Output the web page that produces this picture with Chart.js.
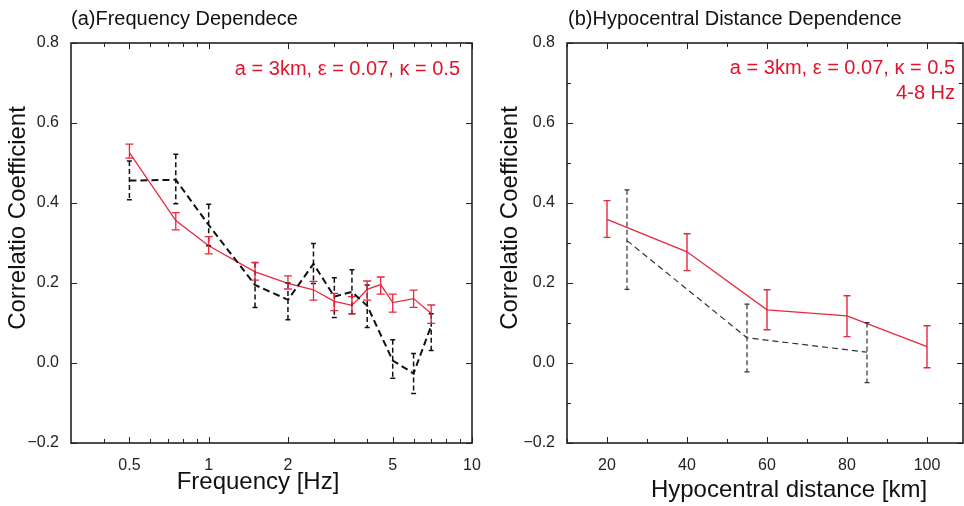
<!DOCTYPE html>
<html>
<head>
<meta charset="utf-8">
<script src="https://cdn.jsdelivr.net/npm/chart.js@4.4.0/dist/chart.umd.min.js"></script>
<style>
body { margin: 0; background: #fff; }
#wrap { position: relative; width: 964px; height: 506px; }
canvas { position: absolute; top: 0; }
</style>
</head>
<body>
<div id="wrap">
  <canvas id="freqChart" width="482" height="506" style="left:0"></canvas>
  <canvas id="distChart" width="482" height="506" style="left:482px"></canvas>
</div>
<script>
// ---- (a) frequency dependence ----
const freqRed = [0.5, 0.75, 1, 1.5, 2, 2.5, 3, 3.5, 4, 4.5, 5, 6, 7];
const corrRed = [0.526, 0.356, 0.293, 0.228, 0.199, 0.183, 0.154, 0.144, 0.184, 0.196, 0.151, 0.161, 0.124];
const corrRedHigh = [0.547, 0.376, 0.316, 0.251, 0.218, 0.204, 0.174, 0.166, 0.205, 0.215, 0.172, 0.182, 0.145];
const corrRedLow = [0.512, 0.333, 0.273, 0.207, 0.185, 0.157, 0.131, 0.123, 0.157, 0.172, 0.127, 0.139, 0.099];

const freqObs = [0.5, 0.75, 1, 1.5, 2, 2.5, 3, 3.5, 4, 5, 6, 7];
const corrObs = [0.456, 0.458, 0.345, 0.195, 0.158, 0.248, 0.166, 0.178, 0.143, 0.006, -0.026, 0.093];
const corrObsHigh = [0.505, 0.522, 0.397, 0.251, 0.200, 0.299, 0.213, 0.233, 0.195, 0.058, 0.024, 0.123];
const corrObsLow = [0.408, 0.398, 0.293, 0.139, 0.108, 0.199, 0.114, 0.123, 0.089, -0.038, -0.076, 0.031];

// ---- (b) hypocentral distance dependence ----
const distRed = [20, 40, 60, 80, 100];
const distCorrRed = [0.359, 0.278, 0.133, 0.118, 0.041];
const distCorrRedHigh = [0.406, 0.323, 0.183, 0.168, 0.093];
const distCorrRedLow = [0.314, 0.231, 0.083, 0.066, -0.012];

const distObs = [25, 55, 85];
const distCorrObs = [0.306, 0.063, 0.027];
const distCorrObsHigh = [0.433, 0.147, 0.101];
const distCorrObsLow = [0.184, -0.022, -0.049];

// ticks
const yTicks = [-0.2, 0, 0.2, 0.4, 0.6, 0.8];
const yMinorB = [-0.1, 0.1, 0.3, 0.5, 0.7];
const freqTicks = [0.5, 1, 2, 5, 10];
const freqMinor = [0.4, 0.6, 0.7, 0.8, 0.9, 3, 4, 6, 7, 8, 9];
const distTicks = [20, 40, 60, 80, 100];
const distMinor = [10, 30, 50, 70, 90];

const RED = '#e8283c';
const TEXT_RED = '#e0142c';
const FONT = 'Arial, "Liberation Sans", sans-serif';

function pts(xs, ys) {
    return xs.map((x, i) => ({ x: x, y: ys[i] }));
}

function yLabel(v) {
    return (v < 0 ? '\u2212' : '') + Math.abs(v).toFixed(1);
}

// error bars drawn from dataset.errLow / errHigh through the y scale
const errorBars = {
    id: 'errorBars',
    afterDatasetsDraw(chart) {
        const ctx = chart.ctx;
        const yScale = chart.scales.y;
        chart.data.datasets.forEach((ds, di) => {
            const meta = chart.getDatasetMeta(di);
            ctx.save();
            ctx.strokeStyle = ds.borderColor;
            ctx.lineWidth = ds.errWidth;
            meta.data.forEach((pt, i) => {
                const yh = yScale.getPixelForValue(ds.errHigh[i]);
                const yl = yScale.getPixelForValue(ds.errLow[i]);
                ctx.setLineDash(ds.errDash);
                ctx.beginPath();
                ctx.moveTo(pt.x, yh);
                ctx.lineTo(pt.x, yl);
                ctx.stroke();
                ctx.setLineDash([]);
                ctx.beginPath();
                ctx.moveTo(pt.x - ds.capHalf, yh);
                ctx.lineTo(pt.x + ds.capHalf, yh);
                ctx.moveTo(pt.x - ds.capHalf, yl);
                ctx.lineTo(pt.x + ds.capHalf, yl);
                ctx.stroke();
            });
            ctx.restore();
        });
    }
};

// box frame with inward ticks on all four sides
const frame = {
    id: 'frame',
    afterDatasetsDraw(chart, args, opts) {
        const ctx = chart.ctx;
        const a = chart.chartArea;
        const xs = chart.scales.x, ys = chart.scales.y;
        ctx.save();
        ctx.strokeStyle = '#222';
        ctx.lineWidth = 1;
        const tickX = (vals, len) => vals.forEach(v => {
            const px = Math.round(xs.getPixelForValue(v)) + 0.5;
            ctx.beginPath();
            ctx.moveTo(px, a.bottom); ctx.lineTo(px, a.bottom - len);
            ctx.moveTo(px, a.top); ctx.lineTo(px, a.top + len);
            ctx.stroke();
        });
        const tickY = (vals, len) => vals.forEach(v => {
            const py = Math.round(ys.getPixelForValue(v)) + 0.5;
            ctx.beginPath();
            ctx.moveTo(a.left, py); ctx.lineTo(a.left + len, py);
            ctx.moveTo(a.right, py); ctx.lineTo(a.right - len, py);
            ctx.stroke();
        });
        tickX(opts.xMajor, 6);
        tickX(opts.xMinor, 4);
        tickY(opts.yMajor, 6);
        tickY(opts.yMinor, 4);
        ctx.lineWidth = 1.6;
        ctx.strokeRect(a.left, a.top, a.right - a.left, a.bottom - a.top);
        ctx.restore();
    }
};

// titles and annotations
const texts = {
    id: 'texts',
    afterDraw(chart, args, opts) {
        const ctx = chart.ctx;
        opts.items.forEach(t => {
            ctx.save();
            ctx.font = t.size + 'px ' + FONT;
            ctx.fillStyle = t.color || '#111';
            ctx.textAlign = t.align || 'center';
            ctx.textBaseline = 'middle';
            ctx.translate(t.x, t.y);
            if (t.rotate) ctx.rotate(-Math.PI / 2);
            ctx.fillText(t.text, 0, 0);
            ctx.restore();
        });
    }
};

function yAxis(width) {
    return {
        min: -0.2,
        max: 0.8,
        afterBuildTicks: s => { s.ticks = yTicks.map(v => ({ value: v })); },
        afterFit: s => { s.width = width; s.paddingTop = 0; s.paddingBottom = 0; },
        grid: { display: false },
        border: { display: false },
        ticks: {
            font: { family: FONT, size: 16 },
            color: '#222',
            padding: 4,
            callback: yLabel
        }
    };
}

function xTicks() {
    return {
        font: { family: FONT, size: 16 },
        color: '#222',
        padding: 5,
        maxRotation: 0,
        autoSkip: false,
        callback: v => String(v)
    };
}

// Create the frequency chart
new Chart(document.getElementById('freqChart').getContext('2d'), {
    type: 'line',
    data: {
        datasets: [
            {
                data: pts(freqObs, corrObs),
                borderColor: '#111',
                borderWidth: 2,
                borderDash: [7, 4],
                pointRadius: 0,
                errLow: corrObsLow,
                errHigh: corrObsHigh,
                errWidth: 1.5,
                errDash: [5, 3],
                capHalf: 2.5
            },
            {
                data: pts(freqRed, corrRed),
                borderColor: RED,
                borderWidth: 1.3,
                pointRadius: 0,
                errLow: corrRedLow,
                errHigh: corrRedHigh,
                errWidth: 1.3,
                errDash: [],
                capHalf: 4
            }
        ]
    },
    options: {
        responsive: false,
        animation: false,
        devicePixelRatio: 1,
        layout: { padding: { left: 0, right: 10, top: 43, bottom: 0 } },
        scales: {
            x: {
                type: 'logarithmic',
                min: 0.3,
                max: 10,
                afterBuildTicks: s => { s.ticks = freqTicks.map(v => ({ value: v })); },
                afterFit: s => { s.height = 63; s.paddingLeft = 0; s.paddingRight = 0; },
                grid: { display: false },
                border: { display: false },
                ticks: xTicks()
            },
            y: yAxis(71)
        },
        plugins: {
            legend: { display: false },
            tooltip: { enabled: false },
            frame: { xMajor: freqTicks, xMinor: freqMinor, yMajor: yTicks, yMinor: [] },
            texts: {
                items: [
                    { text: '(a)Frequency Dependece', x: 71, y: 19, size: 20, align: 'left' },
                    { text: 'Correlatio Coefficient', x: 18, y: 218, size: 24, rotate: true },
                    { text: 'Frequency [Hz]', x: 258, y: 482, size: 24 },
                    { text: 'a = 3km, \u03b5 = 0.07, \u03ba = 0.5', x: 460, y: 69, size: 20, align: 'right', color: TEXT_RED }
                ]
            }
        }
    },
    plugins: [errorBars, frame, texts]
});

// Create the distance chart
new Chart(document.getElementById('distChart').getContext('2d'), {
    type: 'line',
    data: {
        datasets: [
            {
                data: pts(distObs, distCorrObs),
                borderColor: '#333',
                borderWidth: 1.2,
                borderDash: [6, 4],
                pointRadius: 0,
                errLow: distCorrObsLow,
                errHigh: distCorrObsHigh,
                errWidth: 1.2,
                errDash: [5, 3],
                capHalf: 2.5
            },
            {
                data: pts(distRed, distCorrRed),
                borderColor: RED,
                borderWidth: 1.3,
                pointRadius: 0,
                errLow: distCorrRedLow,
                errHigh: distCorrRedHigh,
                errWidth: 1.4,
                errDash: [],
                capHalf: 3.5
            }
        ]
    },
    options: {
        responsive: false,
        animation: false,
        devicePixelRatio: 1,
        layout: { padding: { left: 0, right: 1, top: 43, bottom: 0 } },
        scales: {
            x: {
                type: 'linear',
                min: 10,
                max: 109,
                afterBuildTicks: s => { s.ticks = distTicks.map(v => ({ value: v })); },
                afterFit: s => { s.height = 63; s.paddingLeft = 0; s.paddingRight = 0; },
                grid: { display: false },
                border: { display: false },
                ticks: xTicks()
            },
            y: yAxis(85)
        },
        plugins: {
            legend: { display: false },
            tooltip: { enabled: false },
            frame: { xMajor: distTicks, xMinor: distMinor, yMajor: yTicks, yMinor: yMinorB },
            texts: {
                items: [
                    { text: '(b)Hypocentral Distance Dependence', x: 86, y: 19, size: 20, align: 'left' },
                    { text: 'Correlatio Coefficient', x: 28, y: 218, size: 24, rotate: true },
                    { text: 'Hypocentral distance [km]', x: 307, y: 490, size: 24 },
                    { text: 'a = 3km, \u03b5 = 0.07, \u03ba = 0.5', x: 473, y: 68, size: 20, align: 'right', color: TEXT_RED },
                    { text: '4-8 Hz', x: 473, y: 93, size: 20, align: 'right', color: TEXT_RED }
                ]
            }
        }
    },
    plugins: [errorBars, frame, texts]
});
</script>
</body>
</html>
